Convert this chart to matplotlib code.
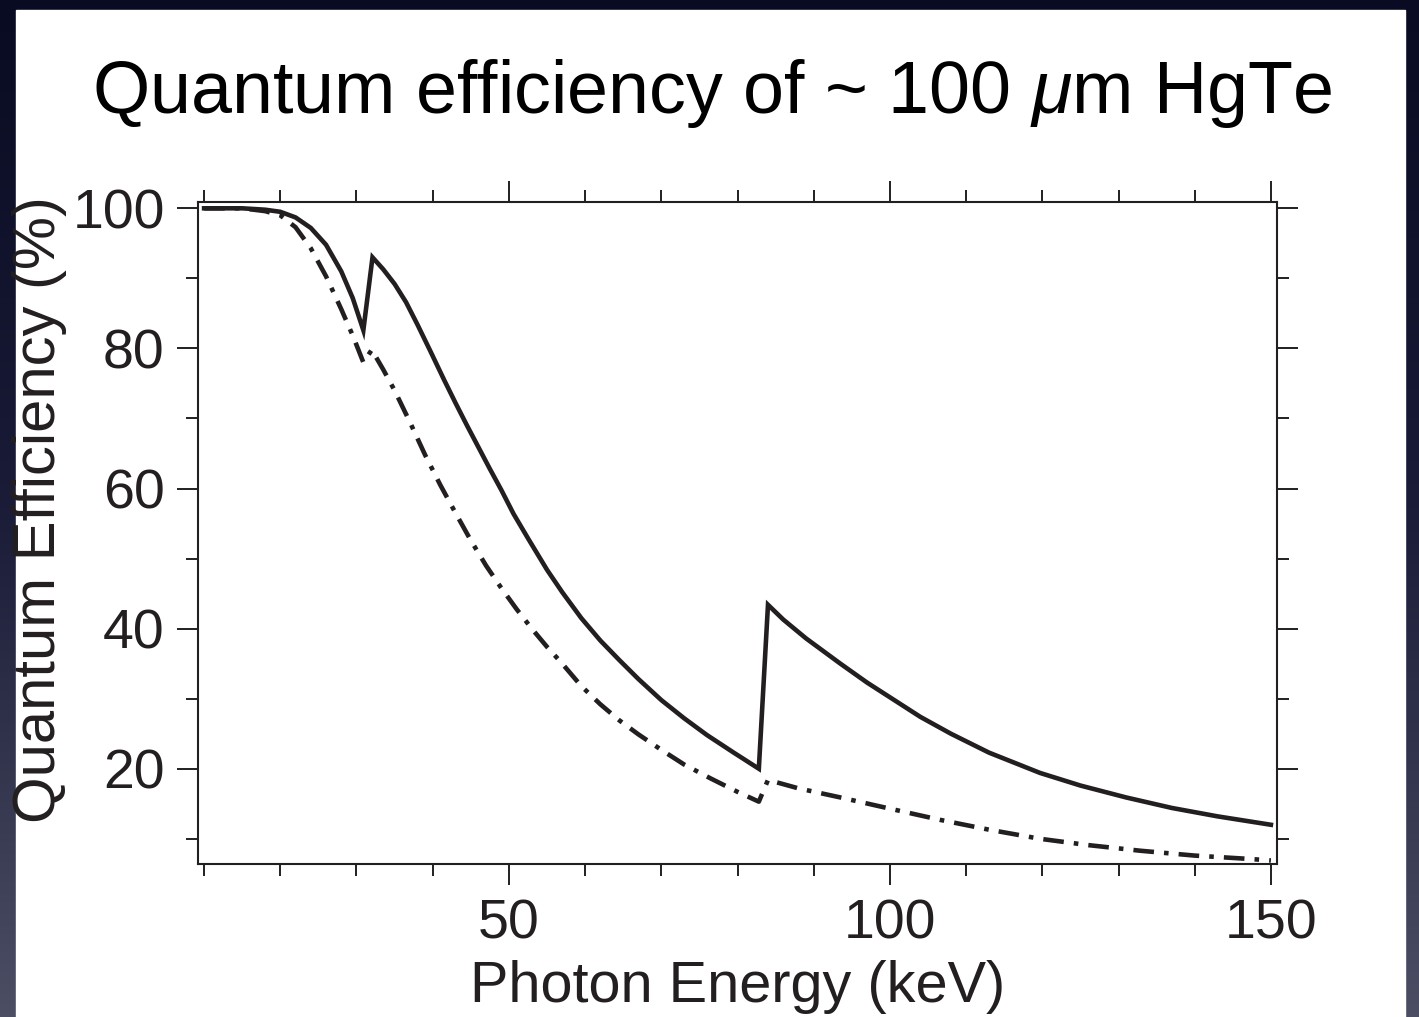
import numpy as np
import matplotlib.pyplot as plt
from matplotlib.patches import Rectangle
from matplotlib.colors import LinearSegmentedColormap
from matplotlib.ticker import MultipleLocator

plt.rcParams['font.family'] = ['Liberation Sans', 'DejaVu Sans']
plt.rcParams['mathtext.fontset'] = 'custom'
plt.rcParams['mathtext.rm'] = 'Liberation Sans'
plt.rcParams['mathtext.it'] = 'Liberation Sans:italic'

INK = '#231f20'

# solid curve
energy_a = [10, 15, 18, 20, 22, 24, 26, 28, 29.5, 30.9, 32.1, 33.5, 35, 36.5, 38, 39.7,
            41.5, 43, 44.5, 46, 47.5, 49, 50.6, 52.5, 55, 57, 59.5, 62, 64.5, 67, 70,
            73, 76, 79.5, 82.8, 84.0, 86, 89, 93.5, 97, 100, 104, 108, 113, 119.7,
            125, 131, 137, 143, 150]
qe_a = [100, 100, 99.8, 99.5, 98.7, 97.2, 94.8, 91.0, 87.2, 82.6, 93.0, 91.3, 89.2, 86.6, 83.4, 79.6,
        75.5, 72.2, 69.0, 65.9, 62.8, 59.8, 56.4, 52.9, 48.4, 45.2, 41.5, 38.3, 35.5, 32.8, 29.8,
        27.2, 24.8, 22.3, 20.0, 43.4, 41.3, 38.6, 35.0, 32.3, 30.2, 27.4, 25.0, 22.3, 19.4,
        17.6, 15.9, 14.4, 13.2, 12.0]

# dash-dot curve
energy_b = [10, 15, 18, 20, 22, 24, 26, 28, 29.6, 30.9, 32.0, 33.5, 35, 37, 39, 41, 43,
            45, 47, 49, 51, 53, 55, 57, 59.5, 62, 64.5, 67, 70, 73, 76.5, 80, 82.8,
            84.0, 88, 93.5, 100, 106.6, 113, 119.7, 126, 132.8, 140, 147.5, 150]
qe_b = [100, 100, 99.6, 99.0, 97.3, 94.3, 90.3, 85.6, 81.6, 78.0, 79.8, 77.0, 74.0, 69.5, 64.8, 60.5, 56.5,
        52.6, 49.0, 45.8, 42.8, 40.0, 37.4, 35.0, 31.8, 29.2, 26.9, 24.9, 22.7, 20.6, 18.6, 16.7, 15.3,
        18.4, 17.2, 15.9, 14.3, 12.7, 11.3, 10.0, 9.1, 8.3, 7.6, 7.1, 6.9]

fig = plt.figure(figsize=(14.19, 10.17), dpi=100)

# dark slide background
bg = fig.add_axes([0, 0, 1, 1], zorder=-10)
grad = np.linspace(0, 1, 256)[:, None] * np.ones((1, 2))
bg.imshow(grad, aspect='auto', extent=(0, 1, 0, 1),
          cmap=LinearSegmentedColormap.from_list('bg', ['#090b22', '#1a1c38', '#4c4e64']),
          origin='upper')
bg.add_patch(Rectangle((16 / 1419, 0), (1405 - 16) / 1419, (1017 - 10) / 1017,
                       transform=bg.transAxes, color='white', zorder=5))
bg.set_xlim(0, 1)
bg.set_ylim(0, 1)
bg.axis('off')

ax = fig.add_axes([198 / 1419, 153 / 1017, (1277 - 198) / 1419, (864 - 202) / 1017])
ax.set_facecolor('white')
ax.plot(energy_a, qe_a, color=INK, lw=3.3, solid_joinstyle='miter')
ax.plot(energy_b, qe_b, color=INK, lw=3.3, dashes=(4.5, 2.2, 1.0, 2.2), dash_capstyle='butt')

ax.set_xlim(9.2, 150.8)
ax.set_ylim(6.4, 100.9)
ax.xaxis.set_major_locator(MultipleLocator(50))
ax.xaxis.set_minor_locator(MultipleLocator(10))
ax.yaxis.set_major_locator(MultipleLocator(20))
ax.yaxis.set_minor_locator(MultipleLocator(10))
ax.set_yticks([20, 40, 60, 80, 100])

for s in ax.spines.values():
    s.set_linewidth(1.5)
    s.set_color(INK)
ax.tick_params(which='both', direction='out', top=True, right=True, color=INK,
               width=1.4, labelcolor=INK, labelsize=40)
ax.tick_params(which='major', length=15)
ax.tick_params(which='minor', length=8.5)
ax.tick_params(axis='x', which='major', pad=10)
ax.tick_params(axis='y', which='major', pad=9)

ax.set_xlabel('Photon Energy (keV)', fontsize=41.5, color=INK, labelpad=7)
ax.set_ylabel('Quantum Efficiency (%)', fontsize=43, color=INK)
ax.yaxis.set_label_coords(-0.121, 0.535)

fig.text(712 / 1419, 1 - 113 / 1017, r'Quantum efficiency of ~ 100 $\mu$m HgTe',
         fontsize=53, color='black', ha='center', va='baseline')

fig.savefig('out.png', dpi=100)
